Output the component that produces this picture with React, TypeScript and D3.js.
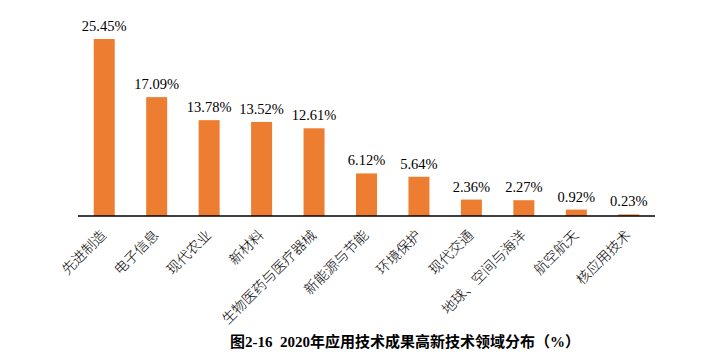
import React from 'react';
import * as d3 from 'd3';

const categories = ['先进制造', '电子信息', '现代农业', '新材料', '生物医药与医疗器械', '新能源与节能', '环境保护', '现代交通', '地球、空间与海洋', '航空航天', '核应用技术'];
const values = [25.45, 17.09, 13.78, 13.52, 12.61, 6.12, 5.64, 2.36, 2.27, 0.92, 0.23];
const title = '图2-16\u00a0\u00a02020年应用技术成果高新技术领域分布（%）';

const W = 723;
const H = 360;
const left = 78;
const right = 655;
const base = 216;

export default function App() {
  const x = d3.scaleBand<string>()
    .domain(categories)
    .range([left, right])
    .paddingInner(0.6)
    .paddingOuter(0.3);
  const y = d3.scaleLinear()
    .domain([0, 25.45])
    .range([base, 39]);

  return (
    <svg width={W} height={H} style={{position: 'absolute', left: 0, top: 0, background: '#fff'}}>
      {categories.map((c, i) => (
        <g key={c}>
          <rect x={x(c)} y={y(values[i])} width={x.bandwidth()} height={base - y(values[i])} fill="#ED7D31" />
          <text x={x(c)! + x.bandwidth() / 2} y={y(values[i]) - 8} textAnchor="middle"
            fontFamily="'Liberation Serif', serif" fontSize={14.5} fill="#000">
            {values[i].toFixed(2)}%
          </text>
          <text transform={`translate(${x(c)! + x.bandwidth() / 2 + 3},${base + 20}) rotate(-45)`}
            textAnchor="end" fontFamily="'Noto Sans CJK SC', sans-serif" fontWeight={300} fontSize={14} fill="#000">
            {c}
          </text>
        </g>
      ))}
      <line x1={left} x2={right} y1={base} y2={base} stroke="#000" strokeWidth={1.5} />
      <text x={405} y={347} textAnchor="middle" fontFamily="'Liberation Serif', 'Noto Sans CJK SC', serif"
        fontWeight="bold" fontSize={15} fill="#000">
        {title}
      </text>
    </svg>
  );
}
